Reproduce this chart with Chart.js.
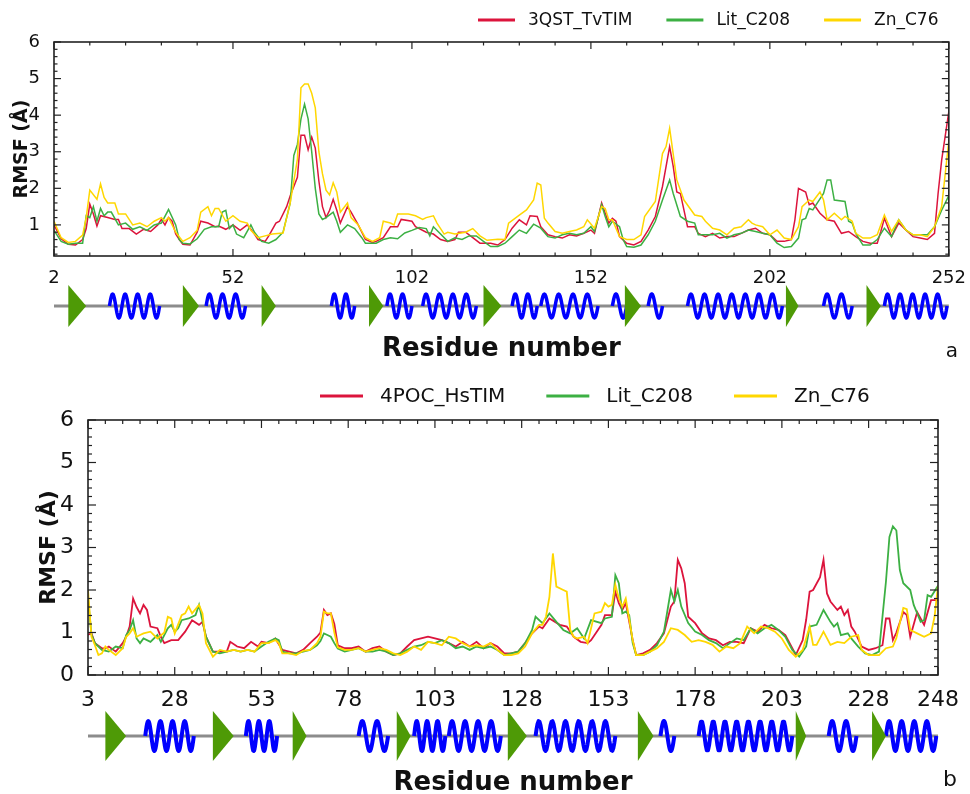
<!DOCTYPE html>
<html>
<head>
<meta charset="utf-8">
<script src="https://cdn.jsdelivr.net/npm/chart.js@4"></script>
<style>
  html, body { margin: 0; padding: 0; background: #fff; overflow: hidden; }
  #wrapA { position: absolute; left: 0; top: 0; width: 970px; height: 370px; }
  #wrapB { position: absolute; left: 0; top: 370px; width: 970px; height: 424px; }
</style>
</head>
<body>
<div id="wrapA"><canvas id="rmsfA"></canvas></div>
<div id="wrapB"><canvas id="rmsfB"></canvas></div>
<script>
// ---- panel a : TvTIM ----
const labelsA = ['3QST_TvTIM', 'Lit_C208', 'Zn_C76'];
const xTicksA = [2, 52, 102, 152, 202, 252];
const yTicksA = [1, 2, 3, 4, 5, 6];
// [residue, RMSF]
const redA = [[2,1.0],[4,0.62],[6,0.47],[8,0.45],[10,0.6],[11,0.9],[12,1.57],[13,1.3],[14,0.97],[15,1.25],[17,1.2],[19,1.15],[20,1.15],[21,0.9],[23,0.9],[25,0.75],[27,0.88],[29,0.82],[31,1.0],[32,1.15],[33,1.0],[34,1.2],[35,1.1],[36,0.75],[37,0.6],[38,0.47],[40,0.45],[42,0.8],[43,1.1],[45,1.05],[47,0.95],[48,0.97],[50,0.88],[52,1.0],[54,0.85],[56,1.0],[58,0.75],[59,0.6],[61,0.55],[62,0.7],[64,1.05],[65,1.1],[67,1.5],[68,1.8],[70,2.3],[71,3.45],[72,3.45],[73,3.05],[74,3.4],[75,3.1],[76,2.2],[77,1.5],[78,1.2],[79,1.4],[80,1.7],[81,1.4],[82,1.05],[84,1.5],[85,1.35],[87,1.0],[89,0.6],[91,0.52],[92,0.55],[94,0.65],[96,0.95],[98,0.95],[99,1.15],[102,1.1],[103,0.95],[106,0.8],[108,0.75],[110,0.6],[112,0.55],[114,0.6],[115,0.8],[117,0.8],[119,0.65],[121,0.5],[124,0.5],[126,0.45],[128,0.6],[130,0.91],[132,1.14],[134,1.0],[135,1.25],[137,1.23],[138,0.95],[140,0.73],[142,0.68],[144,0.64],[146,0.73],[148,0.7],[150,0.77],[152,0.86],[153,0.77],[155,1.6],[156,1.32],[157,1.05],[158,1.18],[159,1.1],[160,0.68],[162,0.5],[164,0.45],[166,0.55],[168,0.86],[170,1.23],[172,2.05],[174,3.14],[175,2.6],[176,1.9],[177,1.86],[179,0.95],[181,0.95],[182,0.77],[184,0.68],[186,0.77],[188,0.64],[190,0.68],[192,0.68],[194,0.77],[196,0.86],[198,0.91],[200,0.77],[202,0.73],[204,0.55],[206,0.55],[208,0.6],[209,1.14],[210,2.0],[212,1.9],[213,1.55],[214,1.6],[216,1.32],[218,1.14],[220,1.1],[222,0.77],[224,0.82],[226,0.68],[228,0.55],[230,0.5],[232,0.5],[233,0.82],[234,1.18],[236,0.68],[238,1.05],[240,0.86],[242,0.68],[244,0.64],[246,0.6],[248,0.77],[249,1.86],[250,2.77],[252,4.1]];
const greenA = [[2,0.85],[4,0.55],[6,0.47],[8,0.5],[10,0.5],[11,1.25],[12,1.2],[13,1.5],[14,1.1],[15,1.45],[16,1.25],[17,1.35],[18,1.35],[20,1.0],[22,1.05],[24,0.88],[26,0.95],[28,0.85],[30,1.0],[32,1.05],[34,1.42],[36,1.0],[37,0.6],[38,0.5],[40,0.48],[42,0.62],[44,0.88],[46,0.95],[48,0.95],[49,1.35],[50,1.4],[51,0.9],[52,1.0],[53,0.75],[55,0.65],[57,1.0],[58,0.8],[60,0.55],[62,0.5],[64,0.6],[66,0.8],[68,1.6],[69,2.9],[70,3.2],[71,3.9],[72,4.3],[73,3.9],[74,3.0],[75,2.0],[76,1.3],[77,1.15],[78,1.2],[80,1.35],[81,1.1],[82,0.8],[84,1.0],[86,0.9],[88,0.65],[89,0.5],[92,0.5],[94,0.6],[96,0.65],[98,0.62],[100,0.78],[102,0.85],[104,0.93],[106,0.9],[107,0.7],[108,0.95],[110,0.75],[112,0.55],[114,0.65],[116,0.6],[118,0.7],[120,0.7],[122,0.55],[124,0.41],[126,0.41],[128,0.5],[130,0.68],[132,0.86],[134,0.77],[136,1.02],[138,0.91],[140,0.68],[142,0.64],[144,0.73],[146,0.77],[148,0.73],[150,0.77],[152,0.95],[153,0.82],[155,1.55],[156,1.23],[157,0.95],[158,1.1],[160,0.95],[161,0.6],[162,0.41],[164,0.39],[166,0.45],[168,0.73],[170,1.1],[172,1.68],[174,2.23],[175,1.86],[177,1.23],[179,1.1],[181,1.05],[182,0.73],[184,0.73],[186,0.73],[188,0.77],[190,0.64],[192,0.73],[194,0.77],[196,0.86],[198,0.82],[200,0.77],[202,0.73],[204,0.5],[206,0.38],[208,0.41],[210,0.64],[211,1.14],[212,1.18],[213,1.45],[214,1.41],[217,1.86],[218,2.23],[219,2.23],[220,1.68],[223,1.64],[224,1.1],[225,1.05],[226,0.77],[228,0.45],[230,0.45],[232,0.6],[234,0.91],[236,0.68],[238,1.14],[240,0.86],[242,0.73],[244,0.73],[246,0.73],[248,0.95],[250,1.4],[252,1.8]];
const yellowA = [[2,1.1],[4,0.65],[6,0.52],[8,0.55],[10,0.72],[11,1.2],[12,1.95],[14,1.7],[15,2.12],[16,1.75],[17,1.6],[19,1.6],[20,1.3],[22,1.3],[24,1.0],[26,1.05],[28,0.95],[30,1.1],[32,1.2],[33,1.1],[34,1.2],[36,0.8],[38,0.55],[40,0.65],[42,0.85],[43,1.35],[45,1.5],[46,1.25],[47,1.45],[48,1.45],[50,1.1],[52,1.25],[54,1.1],[56,1.05],[57,0.85],[59,0.65],[61,0.7],[63,0.75],[66,0.78],[67,1.2],[68,1.6],[69,2.2],[70,2.8],[71,4.75],[72,4.85],[73,4.85],[74,4.6],[75,4.2],[76,3.0],[77,2.4],[78,1.95],[79,1.82],[80,2.15],[81,1.9],[82,1.35],[84,1.6],[85,1.2],[87,1.0],[89,0.65],[91,0.55],[93,0.65],[94,1.1],[96,1.05],[97,1.0],[98,1.3],[101,1.3],[103,1.25],[105,1.15],[106,1.2],[108,1.25],[109,1.05],[111,0.75],[112,0.8],[114,0.75],[117,0.8],[119,0.9],[121,0.7],[123,0.58],[126,0.61],[128,0.6],[129,1.05],[132,1.27],[134,1.41],[136,1.68],[137,2.14],[138,2.09],[139,1.18],[140,1.05],[142,0.82],[144,0.77],[146,0.82],[148,0.86],[150,0.95],[151,1.14],[153,0.91],[155,1.5],[156,1.45],[157,1.14],[158,1.14],[160,0.68],[162,0.6],[164,0.6],[166,0.73],[167,1.23],[170,1.64],[172,2.95],[173,3.14],[174,3.64],[176,2.23],[178,1.68],[181,1.27],[183,1.23],[184,1.1],[186,0.91],[188,0.86],[190,0.73],[192,0.91],[194,0.95],[196,1.14],[197,1.05],[198,1.0],[200,0.95],[202,0.73],[204,0.86],[206,0.64],[208,0.6],[210,0.95],[211,1.5],[213,1.68],[214,1.64],[216,1.9],[217,1.68],[218,1.14],[220,1.32],[222,1.14],[223,1.23],[225,1.1],[226,0.77],[228,0.64],[230,0.64],[232,0.73],[234,1.27],[236,0.82],[238,1.14],[240,0.86],[242,0.73],[244,0.73],[246,0.68],[248,0.95],[250,1.5],[252,3.3]];
// secondary structure, residue ranges
const strandsA = [[6,11],[38,42.5],[60,64],[90,94],[122,127],[161.5,166],[206.5,210],[229,233]];
const helicesA = [[17.5,31.5],[44.5,55.5],[79.5,86],[95,102],[105,120],[130,137],[138,154],[158,162],[168,172],[179,198],[198,205.5],[217,225],[234,251.5]];

// ---- panel b : HsTIM ----
const labelsB = ['4POC_HsTIM', 'Lit_C208', 'Zn_C76'];
const xTicksB = [3, 28, 53, 78, 103, 128, 153, 178, 203, 228, 248];
const yTicksB = [0, 1, 2, 3, 4, 5, 6];
const redB = [[3,0.95],[4,0.98],[5,0.75],[7,0.63],[8,0.62],[9,0.67],[11,0.55],[13,0.75],[14,0.9],[15,1.14],[16,1.8],[17,1.6],[18,1.45],[19,1.65],[20,1.53],[21,1.14],[23,1.1],[24,0.9],[25,0.75],[27,0.82],[29,0.82],[31,1.02],[33,1.29],[35,1.18],[36,1.25],[37,0.9],[39,0.55],[41,0.55],[43,0.55],[44,0.78],[46,0.67],[48,0.63],[50,0.78],[52,0.67],[53,0.78],[55,0.75],[57,0.86],[59,0.59],[61,0.55],[63,0.51],[65,0.59],[67,0.75],[69,0.9],[70,1.0],[71,1.53],[72,1.41],[73,1.45],[74,1.2],[75,0.7],[77,0.63],[79,0.63],[81,0.67],[83,0.55],[85,0.63],[87,0.67],[89,0.55],[91,0.47],[93,0.51],[95,0.67],[97,0.82],[99,0.86],[101,0.9],[103,0.86],[105,0.82],[107,0.75],[109,0.67],[111,0.78],[113,0.67],[115,0.78],[117,0.63],[119,0.75],[121,0.67],[123,0.51],[125,0.51],[127,0.55],[129,0.75],[131,0.98],[133,1.14],[134,1.1],[136,1.33],[139,1.18],[141,1.14],[143,0.9],[145,0.78],[147,0.75],[148,0.82],[151,1.18],[152,1.41],[154,1.41],[155,1.96],[156,1.69],[157,1.53],[158,1.69],[160,0.82],[161,0.47],[163,0.51],[165,0.59],[167,0.75],[169,0.98],[171,1.61],[172,1.73],[173,2.71],[174,2.51],[175,2.16],[176,1.37],[178,1.22],[180,0.98],[182,0.86],[184,0.82],[186,0.7],[188,0.78],[190,0.78],[192,0.75],[194,1.1],[196,1.02],[198,1.18],[200,1.1],[202,1.06],[204,0.94],[206,0.63],[207,0.47],[209,0.82],[210,1.3],[211,1.96],[212,2.0],[214,2.3],[215,2.71],[216,1.92],[217,1.73],[219,1.53],[220,1.61],[221,1.41],[222,1.53],[223,1.14],[224,1.02],[226,0.67],[228,0.59],[230,0.63],[232,0.7],[233,1.33],[234,1.33],[235,0.82],[236,1.0],[238,1.48],[239,1.41],[240,0.9],[242,1.48],[244,1.18],[246,1.76],[248,1.76]];
const greenB = [[3,1.8],[4,0.95],[5,0.75],[7,0.59],[9,0.55],[11,0.67],[13,0.63],[14,0.94],[15,1.06],[16,1.29],[17,0.86],[18,0.75],[19,0.86],[21,0.78],[23,0.94],[24,0.78],[26,1.1],[27,1.18],[28,1.02],[29,1.1],[30,1.29],[32,1.33],[34,1.41],[35,1.65],[37,0.9],[39,0.55],[41,0.51],[43,0.55],[45,0.59],[47,0.55],[49,0.59],[51,0.55],[53,0.67],[55,0.78],[57,0.86],[58,0.82],[59,0.55],[61,0.51],[63,0.51],[65,0.55],[67,0.59],[69,0.7],[70,0.8],[71,0.98],[72,0.94],[73,0.9],[74,0.75],[75,0.62],[77,0.55],[79,0.59],[81,0.63],[83,0.55],[85,0.55],[87,0.59],[89,0.55],[91,0.47],[93,0.51],[95,0.59],[97,0.67],[99,0.7],[101,0.78],[103,0.75],[105,0.82],[107,0.75],[109,0.63],[111,0.67],[113,0.59],[115,0.67],[117,0.63],[119,0.67],[121,0.59],[123,0.47],[125,0.51],[127,0.55],[129,0.75],[131,1.06],[132,1.37],[134,1.22],[136,1.45],[138,1.25],[140,1.06],[142,0.98],[144,1.1],[146,0.86],[148,1.29],[151,1.22],[152,1.33],[154,1.37],[155,2.35],[156,2.16],[157,1.45],[158,1.49],[159,1.41],[160,0.75],[161,0.47],[163,0.47],[165,0.55],[167,0.7],[169,1.02],[171,2.0],[172,1.73],[173,2.0],[174,1.61],[176,1.22],[178,1.02],[180,0.94],[182,0.82],[184,0.75],[186,0.63],[188,0.75],[190,0.86],[192,0.82],[194,1.1],[196,0.98],[198,1.1],[200,1.18],[202,1.06],[204,0.9],[206,0.59],[208,0.43],[210,0.67],[211,1.14],[213,1.18],[215,1.53],[217,1.25],[218,1.14],[219,1.22],[220,0.94],[222,0.98],[223,0.86],[225,0.67],[227,0.51],[229,0.47],[231,0.55],[233,2.2],[234,3.25],[235,3.5],[236,3.4],[237,2.47],[238,2.16],[240,2.0],[241,1.65],[243,1.25],[244,1.29],[245,1.88],[246,1.84],[248,2.1]];
const yellowB = [[3,2.0],[4,0.9],[5,0.7],[6,0.47],[7,0.51],[8,0.67],[9,0.59],[11,0.47],[13,0.63],[14,0.9],[15,0.98],[16,1.1],[17,0.9],[18,0.94],[19,0.98],[21,1.02],[22,0.94],[23,0.86],[25,1.0],[26,1.37],[27,1.33],[28,0.98],[30,1.41],[31,1.45],[32,1.61],[33,1.45],[35,1.65],[36,1.45],[37,0.75],[39,0.43],[41,0.59],[43,0.55],[45,0.59],[47,0.55],[49,0.59],[51,0.55],[53,0.75],[55,0.75],[57,0.82],[58,0.75],[59,0.51],[61,0.51],[63,0.47],[65,0.57],[67,0.59],[69,0.75],[70,0.9],[71,1.49],[72,1.45],[73,1.45],[74,1.0],[75,0.65],[77,0.59],[79,0.59],[81,0.63],[83,0.55],[85,0.59],[87,0.63],[89,0.59],[91,0.51],[93,0.47],[95,0.55],[97,0.67],[99,0.59],[101,0.78],[103,0.75],[105,0.7],[107,0.9],[109,0.86],[111,0.75],[113,0.67],[115,0.7],[117,0.67],[119,0.75],[121,0.59],[123,0.47],[125,0.47],[127,0.51],[129,0.67],[131,0.98],[133,1.18],[134,1.18],[135,1.37],[136,1.84],[137,2.86],[138,2.08],[140,2.0],[141,1.96],[142,1.06],[143,0.9],[144,0.86],[146,0.9],[147,0.75],[149,1.45],[151,1.49],[152,1.69],[153,1.61],[154,1.65],[155,2.12],[156,1.8],[157,1.61],[158,1.8],[160,0.82],[161,0.47],[163,0.47],[165,0.55],[167,0.63],[169,0.78],[171,1.1],[173,1.06],[175,0.94],[177,0.78],[179,0.82],[181,0.78],[183,0.71],[185,0.55],[187,0.67],[189,0.63],[191,0.75],[193,1.14],[195,0.98],[197,1.14],[199,1.1],[201,1.02],[203,0.86],[205,0.59],[207,0.43],[209,0.59],[211,1.14],[212,0.71],[213,0.71],[215,1.02],[217,0.71],[219,0.78],[221,0.75],[223,0.9],[225,0.94],[226,0.59],[228,0.47],[231,0.47],[233,0.63],[235,0.67],[236,0.87],[238,1.58],[239,1.55],[240,1.06],[242,0.98],[244,0.9],[246,0.98],[247,1.37],[248,2.1]];
const strandsB = [[8,14],[39,45],[62,66],[92,96],[124,129.5],[161.5,166],[207,210],[229,233]];
const helicesB = [[19.5,33.5],[48.5,57.5],[81,89.5],[97,106],[107,122],[132,155],[168,172],[179,206],[216.5,224.5],[233,247.5]];

const colors = ['#dc143c', '#3cb043', '#ffd700'];
const FONT = "'DejaVu Sans', sans-serif";

const pts = arr => arr.map(([x, y]) => ({ x, y }));

// inward ticks, frame, legend, secondary-structure strip, panel letter
const decor = {
  id: 'decor',
  afterDraw(chart, args, o) {
    const { ctx, chartArea: a, scales: { x, y } } = chart;
    ctx.save();
    ctx.strokeStyle = '#222';
    ctx.lineWidth = 1.2;
    const seg = (x1, y1, x2, y2) => { ctx.beginPath(); ctx.moveTo(x1, y1); ctx.lineTo(x2, y2); ctx.stroke(); };
    for (let v = x.min; v <= x.max; v += o.xMinor) {
      const px = x.getPixelForValue(v);
      const len = o.xMajor.includes(v) ? o.major : o.minor;
      seg(px, a.bottom, px, a.bottom - len);
      seg(px, a.top, px, a.top + len);
    }
    for (let k = Math.ceil(y.min * 5 - 1e-6); k <= Math.floor(y.max * 5 + 1e-6); k++) {
      const py = y.getPixelForValue(k / 5);
      const len = k % 5 === 0 ? o.major : o.minor;
      seg(a.left, py, a.left + len, py);
      seg(a.right, py, a.right - len, py);
    }
    ctx.lineWidth = 1.6;
    ctx.strokeRect(a.left, a.top, a.right - a.left, a.bottom - a.top);

    // legend
    ctx.font = o.legend.size + 'px ' + FONT;
    ctx.textBaseline = 'middle';
    ctx.textAlign = 'left';
    let lx = o.legend.x;
    chart.data.datasets.forEach(ds => {
      ctx.strokeStyle = ds.borderColor;
      ctx.lineWidth = 3;
      seg(lx, o.legend.y, lx + o.legend.line, o.legend.y);
      lx += o.legend.line + o.legend.gap;
      ctx.fillStyle = '#111';
      ctx.fillText(ds.label, lx, o.legend.y + 1);
      lx += ctx.measureText(ds.label).width + o.legend.space;
    });

    // secondary structure
    const yc = o.strip.y;
    ctx.strokeStyle = '#8c8c8c';
    ctx.lineWidth = 3;
    seg(a.left, yc, a.right, yc);
    ctx.strokeStyle = '#0000ff';
    ctx.lineWidth = o.strip.lw;
    ctx.lineJoin = 'round';
    o.strip.helices.forEach(([s, e]) => {
      const x0 = x.getPixelForValue(s), x1 = x.getPixelForValue(e);
      const turns = Math.max(1, Math.round((e - s) / 3.6));
      ctx.beginPath();
      for (let i = 0; i <= 80; i++) {
        const t = i / 80;
        const px = x0 + (x1 - x0) * t;
        const py = yc - o.strip.amp * Math.sin(2 * Math.PI * turns * t);
        i ? ctx.lineTo(px, py) : ctx.moveTo(px, py);
      }
      ctx.stroke();
    });
    ctx.fillStyle = '#4e9a06';
    o.strip.strands.forEach(([s, e]) => {
      const x0 = x.getPixelForValue(s), x1 = x.getPixelForValue(e);
      ctx.beginPath();
      ctx.moveTo(x0, yc - o.strip.h / 2);
      ctx.lineTo(x1, yc);
      ctx.lineTo(x0, yc + o.strip.h / 2);
      ctx.closePath();
      ctx.fill();
    });

    ctx.fillStyle = '#111';
    ctx.font = o.letter.size + 'px ' + FONT;
    ctx.textAlign = 'center';
    ctx.fillText(o.letter.text, o.letter.x, o.letter.y);
    ctx.restore();
  }
};

const chartA = new Chart(document.getElementById('rmsfA'), {
  type: 'line',
  data: {
    datasets: [redA, greenA, yellowA].map((d, i) => ({
      label: labelsA[i],
      data: pts(d),
      borderColor: colors[i],
      backgroundColor: colors[i],
      borderWidth: 1.5,
      pointRadius: 0,
      order: 3 - i
    }))
  },
  plugins: [decor],
  options: {
    responsive: true,
    maintainAspectRatio: false,
    animation: false,
    layout: { padding: { left: 0, right: 20, top: 42, bottom: 0 } },
    scales: {
      x: {
        type: 'linear', min: 2, max: 252,
        afterBuildTicks: s => { s.ticks = xTicksA.map(value => ({ value })); },
        afterFit: s => { s.height = 114; },
        grid: { display: false }, border: { display: false },
        ticks: { autoSkip: false, maxRotation: 0, padding: 4, color: '#111', font: { family: FONT, size: 18 } },
        title: { display: true, text: 'Residue number', color: '#111', padding: { top: 0, bottom: 5 }, font: { family: FONT, size: 26, weight: 'bold' } }
      },
      y: {
        min: 0.15, max: 6,
        afterBuildTicks: s => { s.ticks = yTicksA.map(value => ({ value })); },
        afterFit: s => { s.width = 54; },
        grid: { display: false }, border: { display: false },
        ticks: { padding: 6, color: '#111', font: { family: FONT, size: 18 } },
        title: { display: true, text: 'RMSF (Å)', color: '#111', padding: { top: 11, bottom: 0 }, font: { family: FONT, size: 19, weight: 'bold' } }
      }
    },
    plugins: {
      legend: { display: false },
      tooltip: { enabled: false },
      decor: {
        xMajor: xTicksA, xMinor: 10, major: 7, minor: 3.5,
        legend: { x: 478, y: 20, size: 17, line: 37, gap: 13, space: 34 },
        strip: { y: 306, h: 42, amp: 12, lw: 3.5, strands: strandsA, helices: helicesA },
        letter: { text: 'a', x: 952, y: 352, size: 20 }
      }
    }
  }
});

const chartB = new Chart(document.getElementById('rmsfB'), {
  type: 'line',
  data: {
    datasets: [redB, greenB, yellowB].map((d, i) => ({
      label: labelsB[i],
      data: pts(d),
      borderColor: colors[i],
      backgroundColor: colors[i],
      borderWidth: 1.8,
      pointRadius: 0,
      order: 3 - i
    }))
  },
  plugins: [decor],
  options: {
    responsive: true,
    maintainAspectRatio: false,
    animation: false,
    layout: { padding: { left: 0, right: 32, top: 50, bottom: 0 } },
    scales: {
      x: {
        type: 'linear', min: 3, max: 248,
        afterBuildTicks: s => { s.ticks = xTicksB.map(value => ({ value })); },
        afterFit: s => { s.height = 119; },
        grid: { display: false }, border: { display: false },
        ticks: { autoSkip: false, maxRotation: 0, padding: 4, color: '#111', font: { family: FONT, size: 22 } },
        title: { display: true, text: 'Residue number', color: '#111', padding: { top: 0, bottom: 0 }, font: { family: FONT, size: 26, weight: 'bold', lineHeight: 0.85 } }
      },
      y: {
        min: 0, max: 6,
        afterBuildTicks: s => { s.ticks = yTicksB.map(value => ({ value })); },
        afterFit: s => { s.width = 88; },
        grid: { display: false }, border: { display: false },
        ticks: { padding: 6, color: '#111', font: { family: FONT, size: 22 } },
        title: { display: true, text: 'RMSF (Å)', color: '#111', padding: { top: 36, bottom: 0 }, font: { family: FONT, size: 22, weight: 'bold' } }
      }
    },
    plugins: {
      legend: { display: false },
      tooltip: { enabled: false },
      decor: {
        xMajor: xTicksB, xMinor: 5, major: 8, minor: 4,
        legend: { x: 320, y: 26, size: 20, line: 43, gap: 17, space: 41 },
        strip: { y: 366, h: 50, amp: 15, lw: 4, strands: strandsB, helices: helicesB },
        letter: { text: 'b', x: 950, y: 410, size: 22 }
      }
    }
  }
});
</script>
</body>
</html>
